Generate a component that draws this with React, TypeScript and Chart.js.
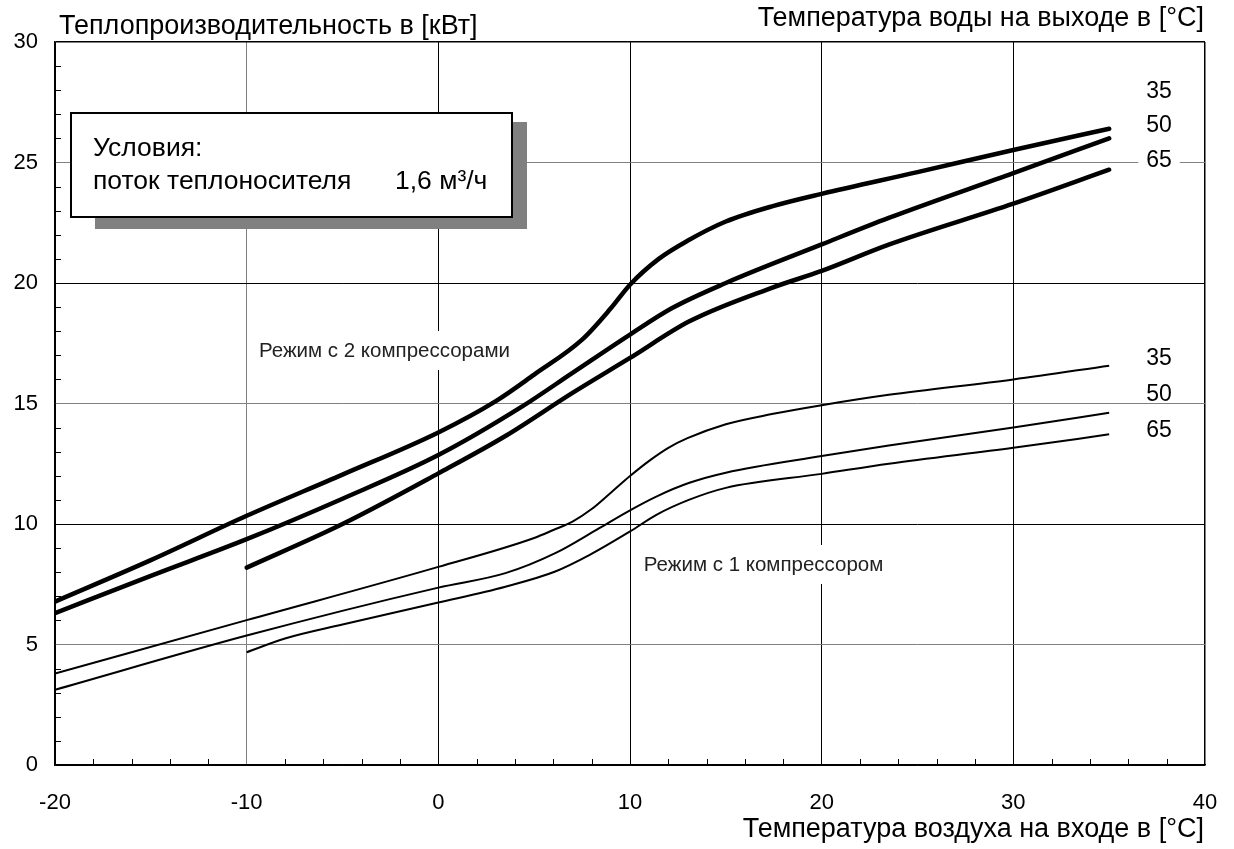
import React, { useEffect, useRef } from 'react';
import { Chart, registerables } from 'chart.js';

Chart.register(...registerables);

// ---- data ----
const xTickValues = [-20, -10, 0, 10, 20, 30, 40];
const yTickValues = [0, 5, 10, 15, 20, 25, 30];

// Two-compressor mode (thick lines), water outlet 35 / 50 / 65 °C
const twoComp35X = [-20, -15, -10, -5, 0, 3, 5, 7.5, 9, 10, 11.5, 13, 15, 17.5, 20, 25, 30, 35];
const twoComp35Y = [6.78, 8.5, 10.34, 12.05, 13.8, 15.1, 16.2, 17.65, 18.95, 19.93, 21.0, 21.75, 22.55, 23.2, 23.7, 24.6, 25.52, 26.4];
const twoComp50X = [-20, -15, -10, -5, 0, 4.4, 7, 10, 12.2, 15, 20, 23.5, 30, 35];
const twoComp50Y = [6.3, 7.85, 9.37, 11.05, 12.86, 14.89, 16.27, 17.86, 18.96, 20.0, 21.6, 22.7, 24.56, 26.0];
const twoComp65X = [-10, -5, 0, 3.5, 7, 10, 13.1, 17.4, 20, 23.5, 30, 35];
const twoComp65Y = [8.19, 10.0, 12.1, 13.65, 15.44, 16.89, 18.41, 19.8, 20.5, 21.59, 23.29, 24.7];

// One-compressor mode (thin lines)
const oneComp35X = [-20, -10, 0, 5, 6, 7, 8, 9, 10, 11, 12, 13, 15, 17.4, 20, 23.5, 30, 35];
const oneComp35Y = [3.79, 6.01, 8.22, 9.42, 9.75, 10.1, 10.62, 11.3, 11.99, 12.62, 13.16, 13.56, 14.14, 14.56, 14.93, 15.36, 16.0, 16.57];
const oneComp50X = [-20, -10, 0, 3.5, 6.1, 8.4, 10, 11.4, 13.1, 15, 20, 23.5, 30, 35];
const oneComp50Y = [3.12, 5.37, 7.36, 7.96, 8.79, 9.83, 10.57, 11.15, 11.71, 12.13, 12.82, 13.26, 14.0, 14.62];
const oneComp65X = [-10, -8, -5, 0, 3.5, 6.1, 7.9, 10, 11.4, 13.1, 15, 20, 23.5, 30, 35];
const oneComp65Y = [4.68, 5.25, 5.83, 6.74, 7.4, 8.03, 8.72, 9.69, 10.39, 11.01, 11.5, 12.08, 12.5, 13.16, 13.72];

// Curve end labels (outlet water temperature)
const curveLabelText = ['35', '50', '65', '35', '50', '65'];
const curveLabelX = [37.6, 37.6, 37.6, 37.6, 37.6, 37.6];
const curveLabelY = [27.99, 26.56, 25.1, 16.89, 15.39, 13.92];

// Mode labels
const modeLabelText = ['Режим с 2 компрессорами', 'Режим с 1 компрессором'];
const modeLabelX = [-9.36, 10.72];
const modeLabelY = [17.22, 8.34];

const yTitle = 'Теплопроизводительность в [кВт]';
const xTitle = 'Температура воздуха на входе в [°C]';
const seriesTitle = 'Температура воды на выходе в [°C]';
const boxLine1 = 'Условия:';
const boxLine2 = 'поток теплоносителя';
const boxValue = '1,6 м³/ч';

const FONT = '"Liberation Sans", Arial, Helvetica, sans-serif';

const toPoints = (xs: number[], ys: number[]) => xs.map((v, i) => ({ x: v, y: ys[i] }));

const decorPlugin = {
  id: 'decor',
  beforeDatasetsDraw(chart: any) {
    const { ctx, scales } = chart;
    const x = scales.x;
    const y = scales.y;
    ctx.save();

    // mode labels with white background (break the grid lines)
    ctx.font = `20.5px ${FONT}`;
    ctx.textBaseline = 'middle';
    ctx.textAlign = 'left';
    modeLabelText.forEach((t, i) => {
      const px = x.getPixelForValue(modeLabelX[i]);
      const py = y.getPixelForValue(modeLabelY[i]);
      const w = ctx.measureText(t).width;
      ctx.fillStyle = '#ffffff';
      ctx.fillRect(px - 4, py - 19, w + 8, 39);
      ctx.fillStyle = '#222222';
      ctx.fillText(t, px, py + 1);
    });

    // curve labels
    ctx.font = `23px ${FONT}`;
    ctx.textAlign = 'center';
    curveLabelText.forEach((t, i) => {
      const px = x.getPixelForValue(curveLabelX[i]);
      const py = y.getPixelForValue(curveLabelY[i]);
      const w = ctx.measureText(t).width;
      ctx.fillStyle = '#ffffff';
      ctx.fillRect(px - w / 2 - 8, py - 8, w + 16, 16);
      ctx.fillStyle = '#000000';
      ctx.fillText(t, px, py + 1);
    });

    // conditions box with shadow
    ctx.fillStyle = '#808080';
    ctx.fillRect(95, 122, 432, 107);
    ctx.fillStyle = '#ffffff';
    ctx.fillRect(70, 112, 443, 106);
    ctx.lineWidth = 2;
    ctx.strokeStyle = '#000000';
    ctx.strokeRect(71, 113, 441, 104);
    ctx.fillStyle = '#000000';
    ctx.font = `26.5px ${FONT}`;
    ctx.textAlign = 'left';
    ctx.textBaseline = 'alphabetic';
    ctx.fillText(boxLine1, 93, 156);
    ctx.fillText(boxLine2, 93, 189);
    ctx.fillText(boxValue, 395, 189);
    ctx.restore();
  },
  afterDraw(chart: any) {
    const { ctx, scales, chartArea } = chart;
    const x = scales.x;
    const y = scales.y;
    ctx.save();
    ctx.strokeStyle = '#000000';
    ctx.lineWidth = 1;
    // minor ticks on x (every 2) and y (every 1), pointing inward
    ctx.beginPath();
    for (let v = -18; v < 40; v += 2) {
      if (v % 10 === 0) continue;
      const px = Math.round(x.getPixelForValue(v)) + 0.5;
      ctx.moveTo(px, chartArea.bottom);
      ctx.lineTo(px, chartArea.bottom - 6);
    }
    for (let v = 1; v < 30; v += 1) {
      if (v % 5 === 0) continue;
      const py = Math.round(y.getPixelForValue(v)) + 0.5;
      ctx.moveTo(chartArea.left, py);
      ctx.lineTo(chartArea.left + 6, py);
    }
    ctx.stroke();

    // titles
    ctx.fillStyle = '#000000';
    ctx.font = `27px ${FONT}`;
    ctx.textBaseline = 'alphabetic';
    ctx.textAlign = 'left';
    ctx.fillText(yTitle, 59, 34);
    ctx.textAlign = 'right';
    ctx.fillText(seriesTitle, 1204, 26);
    ctx.fillText(xTitle, 1204, 837);
    ctx.restore();
  },
};

const gridColor = (v: number, isX: boolean) => {
  if (isX) {
    if (v === -10) return '#808080';
    return '#000000';
  }
  if (v === 0 || v === 30) return '#000000';
  return (v / 5) % 2 === 1 ? '#808080' : '#000000';
};

export default function App() {
  const canvasRef = useRef<HTMLCanvasElement | null>(null);

  useEffect(() => {
    if (!canvasRef.current) return;
    Chart.defaults.font.family = FONT;
    const thick = (data: any[]) => ({
      data,
      borderColor: '#000000',
      borderWidth: 4.5,
      borderCapStyle: 'round' as const,
      borderJoinStyle: 'round' as const,
      pointRadius: 0,
      fill: false,
      cubicInterpolationMode: 'monotone' as const,
    });
    const thin = (data: any[]) => ({
      data,
      borderColor: '#000000',
      borderWidth: 2,
      borderCapStyle: 'butt' as const,
      pointRadius: 0,
      fill: false,
      cubicInterpolationMode: 'monotone' as const,
    });

    const chart = new Chart(canvasRef.current, {
      type: 'line',
      data: {
        datasets: [
          { label: '2 компрессора, 35', ...thick(toPoints(twoComp35X, twoComp35Y)) },
          { label: '2 компрессора, 50', ...thick(toPoints(twoComp50X, twoComp50Y)) },
          { label: '2 компрессора, 65', ...thick(toPoints(twoComp65X, twoComp65Y)) },
          { label: '1 компрессор, 35', ...thin(toPoints(oneComp35X, oneComp35Y)) },
          { label: '1 компрессор, 50', ...thin(toPoints(oneComp50X, oneComp50Y)) },
          { label: '1 компрессор, 65', ...thin(toPoints(oneComp65X, oneComp65Y)) },
        ],
      },
      options: {
        animation: false,
        responsive: true,
        maintainAspectRatio: false,
        layout: { padding: { left: 0, top: 42, right: 29, bottom: 0 } },
        plugins: { legend: { display: false }, tooltip: { enabled: false } },
        scales: {
          x: {
            type: 'linear',
            min: -20,
            max: 40,
            afterBuildTicks: (scale: any) => {
              scale.ticks = xTickValues.map((v) => ({ value: v }));
            },
            afterFit: (scale: any) => {
              scale.height = 84;
              scale.paddingRight = 0;
              scale.paddingLeft = 0;
            },
            grid: {
              drawTicks: false,
              color: (c: any) => gridColor(c.tick?.value, true),
              lineWidth: (c: any) => (c.tick?.value === 40 ? 1.5 : 1),
            },
            border: { display: true, color: '#000000', width: 1.5 },
            ticks: {
              padding: 25,
              color: '#000000',
              font: { size: 22 },
              maxRotation: 0,
              callback: (v: any) => String(v),
            },
          },
          y: {
            type: 'linear',
            min: 0,
            max: 30,
            afterBuildTicks: (scale: any) => {
              scale.ticks = yTickValues.map((v) => ({ value: v }));
            },
            afterFit: (scale: any) => {
              scale.width = 55;
            },
            grid: {
              drawTicks: false,
              color: (c: any) => gridColor(c.tick?.value, false),
              lineWidth: (c: any) => (c.tick?.value === 30 ? 1.5 : 1),
            },
            border: { display: true, color: '#000000', width: 1.5 },
            ticks: {
              padding: 17,
              color: '#000000',
              font: { size: 22 },
              callback: (v: any) => String(v),
            },
          },
        },
      },
      plugins: [decorPlugin],
    });
    return () => chart.destroy();
  }, []);

  return (
    <div style={{ position: 'fixed', left: 0, top: 0, width: 1234, height: 849, background: '#ffffff' }}>
      <canvas ref={canvasRef} />
    </div>
  );
}
